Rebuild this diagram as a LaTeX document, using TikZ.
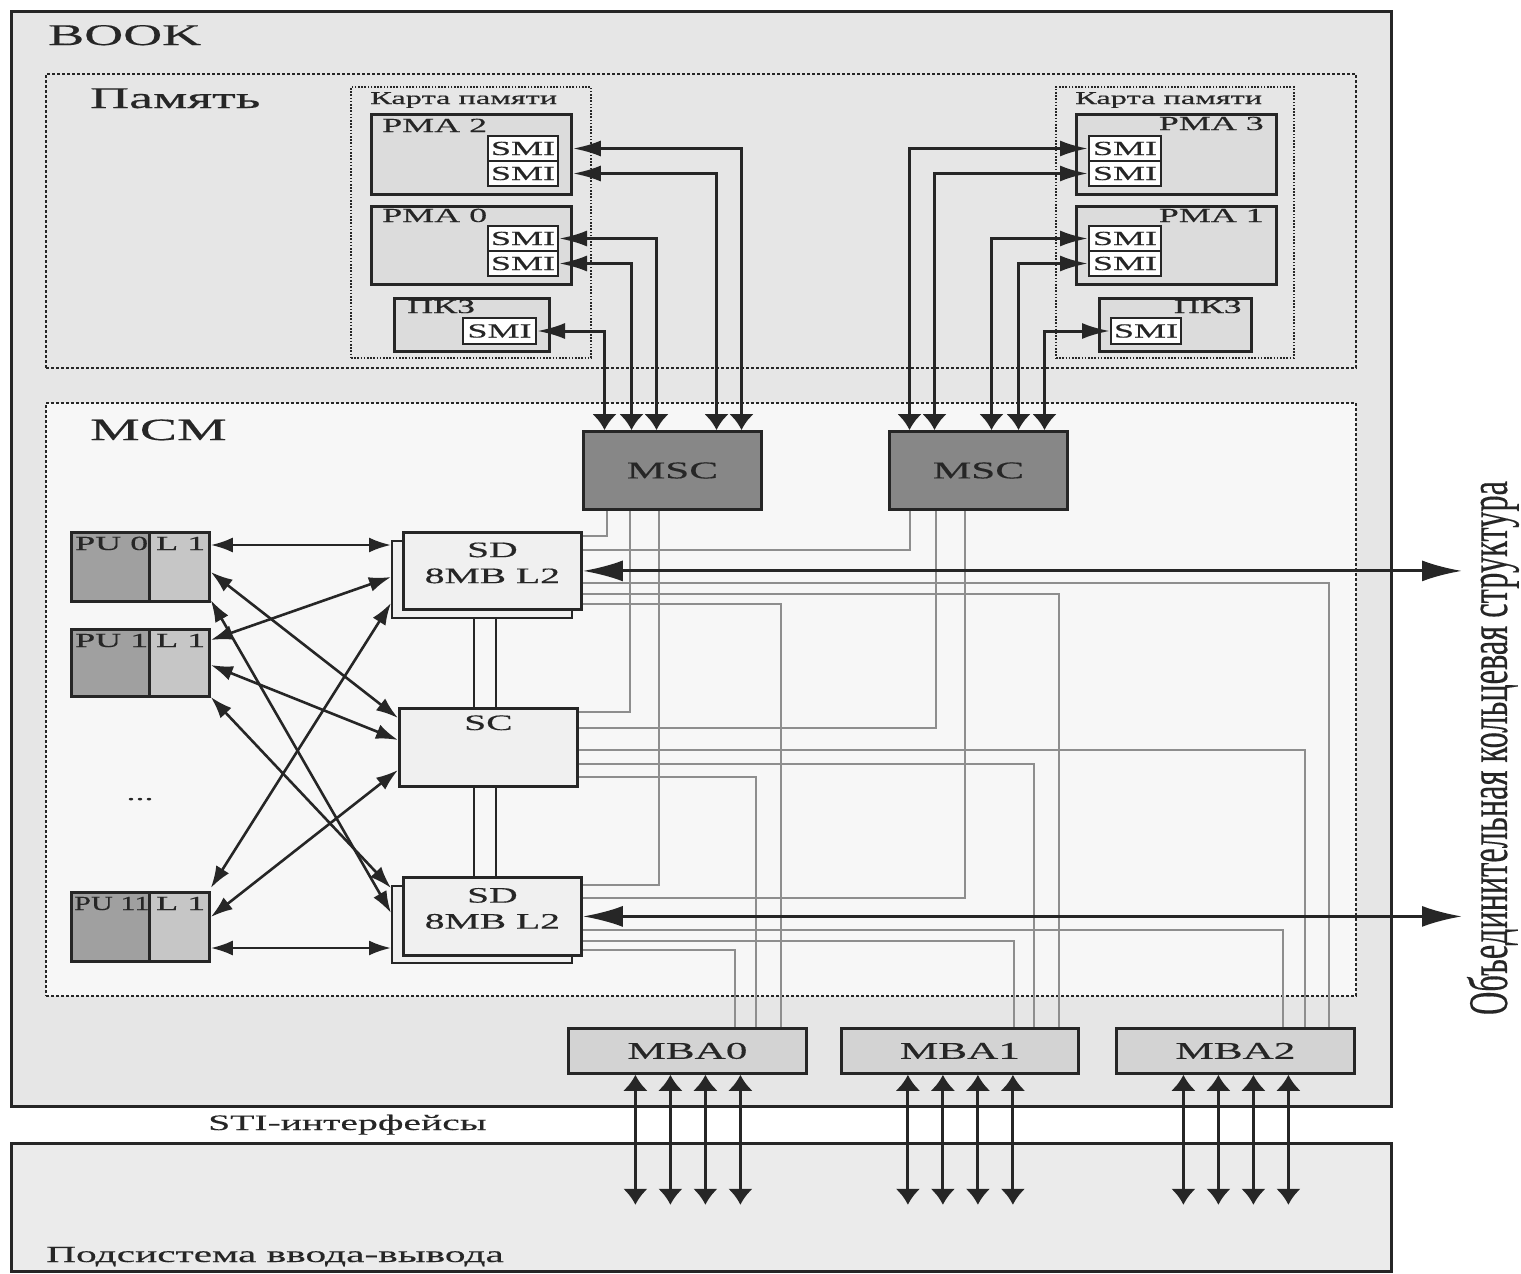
\documentclass[tikz,border=0pt]{standalone}
\usepackage{fontspec}
\setmainfont{Liberation Serif}[FakeStretch=1.8, FakeBold=0.4]
\newfontfamily\ringfont{Liberation Serif}[FakeBold=0.3]
\usetikzlibrary{arrows.meta,positioning}

\definecolor{ink}{HTML}{262626}
\definecolor{bookgray}{HTML}{E6E6E6}
\definecolor{mcmgray}{HTML}{F7F7F7}
\definecolor{pmagray}{HTML}{DCDCDC}
\definecolor{mscgray}{HTML}{878787}
\definecolor{pugray}{HTML}{A0A0A0}
\definecolor{lgray}{HTML}{C6C6C6}
\definecolor{sdgray}{HTML}{F0F0F0}
\definecolor{mbagray}{HTML}{D3D3D3}
\definecolor{iogray}{HTML}{EBEBEB}
\definecolor{wiregray}{HTML}{8E8E8E}

\tikzset{
  unit/.style={draw=ink, line width=2.8pt, inner sep=0pt, anchor=north west, text=ink},
  zone/.style={draw=ink, line width=2pt, dash pattern=on 3pt off 2pt, inner sep=0pt, anchor=north west},
  mapzone/.style={draw=ink, line width=2pt, dash pattern=on 1.6pt off 1.6pt, inner sep=0pt, anchor=north west},
  pmabox/.style={unit, fill=pmagray},
  smibox/.style={unit, line width=2pt, fill=white, font=\fontsize{20}{20}\selectfont},
  mscbox/.style={unit, line width=3pt, fill=mscgray, font=\fontsize{24}{24}\selectfont},
  pubox/.style={unit, fill=pugray},
  lbox/.style={unit, fill=lgray},
  sdbox/.style={unit, fill=sdgray},
  sdback/.style={unit, line width=2pt, fill=sdgray},
  mbabox/.style={unit, fill=mbagray, font=\fontsize{24}{24}\selectfont},
  txt/.style={text=ink, inner sep=0pt, anchor=base west},
  bigtxt/.style={txt, font=\fontsize{30}{30}\selectfont},
  maptxt/.style={txt, font=\fontsize{18}{18}\selectfont},
  pmatxt/.style={txt, font=\fontsize{20}{20}\selectfont},
  sdtxt/.style={text=ink, inner sep=0pt, align=center, font=\fontsize{22}{26}\selectfont},
  wire/.style={draw=wiregray, line width=1.9pt},
  bus/.style={draw=ink, line width=2.6pt},
  memlink/.style={draw=ink, line width=3pt, {Latex[length=28pt,width=16pt]}-{Latex[length=16pt,width=25pt]}},
  puarrow/.style={draw=ink, line width=2.6pt, {Latex[length=22pt,width=15pt]}-{Latex[length=22pt,width=15pt]}},
  ringarrow/.style={draw=ink, line width=3pt, {Latex[length=40pt,width=21pt]}-{Latex[length=40pt,width=21pt]}},
  stiarrow/.style={draw=ink, line width=3pt, {Latex[length=16pt,width=25pt]}-{Latex[length=16pt,width=25pt]}}
}

\begin{document}
\begin{tikzpicture}[x=1pt, y=-1pt]
\useasboundingbox (0,0) rectangle (1521,1274);

\node[unit, line width=3.2pt, fill=bookgray, minimum width=1380pt, minimum height=1095pt] (book) at (10,10) {};
\node[unit, line width=2.6pt, fill=iogray, minimum width=1380pt, minimum height=128pt] (io) at (10,1142) {};
\node[zone, minimum width=1310pt, minimum height=294pt] (mem) at (45,73) {};
\node[zone, fill=mcmgray, minimum width=1310pt, minimum height=593pt] (mcm) at (45,402) {};
\node[mapzone, minimum width=240pt, minimum height=271pt] (mapl) at (350,86) {};
\node[mapzone, minimum width=238pt, minimum height=271pt] (mapr) at (1055,86) {};

\node[bigtxt] (booklbl) at (48,45) {BOOK};
\node[bigtxt] (memlbl) at (90,108) {Память};
\node[bigtxt, font=\fontsize{31}{31}\selectfont] (mcmlbl) at (90,440) {MCM};
\node[maptxt] (mapllbl) at (370,104) {Карта памяти};
\node[maptxt] (maprlbl) at (1075,104) {Карта памяти};
\node[txt, font=\fontsize{22}{22}\selectfont] (stilbl) at (208,1130) {STI-интерфейсы};
\node[txt, font=\fontsize{23}{23}\selectfont] (iolbl) at (46,1262) {Подсистема ввода-вывода};

% memory cards
\node[pmabox, minimum width=200pt, minimum height=80pt] (pma2) at (370,113) {};
\node[pmabox, minimum width=200pt, minimum height=78pt] (pma0) at (370,205) {};
\node[pmabox, minimum width=155pt, minimum height=53pt] (pk0) at (393,297) {};
\node[pmabox, minimum width=200pt, minimum height=80pt] (pma3) at (1075,113) {};
\node[pmabox, minimum width=200pt, minimum height=78pt] (pma1) at (1075,205) {};
\node[pmabox, minimum width=152pt, minimum height=53pt] (pk1) at (1098,297) {};
\node[pmatxt] (pma2lbl) at (382,132) {PMA 2};
\node[pmatxt] (pma0lbl) at (382,222) {PMA 0};
\node[pmatxt] (pk0lbl) at (407,313) {ПКЗ};
\node[pmatxt, anchor=base east] (pma3lbl) at (1264,130) {PMA 3};
\node[pmatxt, anchor=base east] (pma1lbl) at (1264,222) {PMA 1};
\node[pmatxt, anchor=base east] (pk1lbl) at (1242,313) {ПКЗ};

\node[smibox, minimum width=70pt, minimum height=25pt] (smi2a) at (487,135) {SMI};
\node[smibox, minimum width=70pt, minimum height=25pt] (smi2b) at (487,160) {SMI};
\node[smibox, minimum width=70pt, minimum height=25pt] (smi0a) at (487,225) {SMI};
\node[smibox, minimum width=70pt, minimum height=25pt] (smi0b) at (487,250) {SMI};
\node[smibox, minimum width=73pt, minimum height=26pt] (smik0) at (462,317) {SMI};
\node[smibox, minimum width=72pt, minimum height=25pt] (smi3a) at (1088,135) {SMI};
\node[smibox, minimum width=72pt, minimum height=25pt] (smi3b) at (1088,160) {SMI};
\node[smibox, minimum width=72pt, minimum height=25pt] (smi1a) at (1088,225) {SMI};
\node[smibox, minimum width=72pt, minimum height=25pt] (smi1b) at (1088,250) {SMI};
\node[smibox, minimum width=70pt, minimum height=26pt] (smik1) at (1110,317) {SMI};

% MCM wires
\node[mscbox, minimum width=178pt, minimum height=78pt] (msc1) at (582,430) {MSC};
\node[mscbox, minimum width=178pt, minimum height=78pt] (msc2) at (888,430) {MSC};

\node[sdback, minimum width=180pt, minimum height=77pt] (sd1b) at (391,540) {};
\node[sdbox, minimum width=178pt, minimum height=77pt] (sd1) at (402,531) {};
\node[sdbox, minimum width=178pt, minimum height=78pt] (sc) at (398,707) {};
\node[sdback, minimum width=180pt, minimum height=77pt] (sd2b) at (391,885) {};
\node[sdbox, minimum width=178pt, minimum height=78pt] (sd2) at (402,876) {};
\node[sdtxt] (sd1t) at ([yshift=8pt]sd1.center) {SD\\8MB L2};
\node[sdtxt] (sd2t) at ([yshift=8pt]sd2.center) {SD\\8MB L2};
\node[sdtxt, anchor=base] (sct) at ([yshift=-23pt]sc.north) {SC};

\node[mbabox, minimum width=238pt, minimum height=45pt] (mba0) at (567,1027) {MBA0};
\node[mbabox, minimum width=237pt, minimum height=45pt] (mba1) at (840,1027) {MBA1};
\node[mbabox, minimum width=238pt, minimum height=45pt] (mba2) at (1115,1027) {MBA2};

\foreach \src/\x/\y/\dst in {msc1/607/536/sd1, msc1/630/712/sc, msc1/659/885/sd2,
                             msc2/910/550/sd1, msc2/936/728/sc, msc2/965/898/sd2}
  \draw[wire] (\src.south -| \x,0) |- (\dst.east |- 0,\y);
\foreach \src/\y/\x/\dst in {sd1/583/1329/mba2, sd1/594/1059/mba1, sd1/604/781/mba0,
                             sc/750/1305/mba2, sc/764/1034/mba1, sc/777/756/mba0,
                             sd2/930/1283/mba2, sd2/941/1014/mba1, sd2/950/735/mba0}
  \draw[wire] (\src.east |- 0,\y) -| (\dst.north -| \x,0);

\draw[bus] (sd1b.south -| 474,0) -- (sc.north -| 474,0);
\draw[bus] (sd1b.south -| 496,0) -- (sc.north -| 496,0);
\draw[bus] (sc.south -| 474,0) -- (sd2.north -| 474,0);
\draw[bus] (sc.south -| 496,0) -- (sd2.north -| 496,0);

% processors
\node[pubox, minimum width=78pt, minimum height=69pt] (pu0) at (70,531) {};
\node[pubox, minimum width=78pt, minimum height=67pt] (pu1) at (70,628) {};
\node[pubox, minimum width=78pt, minimum height=69pt] (pu11) at (70,891) {};
\node[pmatxt] (pu0lbl) at (75,550) {PU 0};
\node[pmatxt] (pu1lbl) at (75,647) {PU 1};
\node[pmatxt] (pu11lbl) at (74,910) {\scalebox{0.84}[1]{PU 11}};
\node[lbox, minimum width=60pt, minimum height=69pt] (l0) at (148,531) {};
\node[lbox, minimum width=60pt, minimum height=67pt] (l1) at (148,628) {};
\node[lbox, minimum width=60pt, minimum height=69pt] (l11) at (148,891) {};
\node[pmatxt] (l0lbl) at (156,550) {L 1};
\node[pmatxt] (l1lbl) at (156,647) {L 1};
\node[pmatxt] (l11lbl) at (156,910) {L 1};
\node[pmatxt, anchor=base] (dots) at (140,800) {...};

\foreach \pu/\py/\dst/\dy in {l0/545/sd1b/545, l0/572/sc/718, l0/600/sd2b/913,
                              l1/640/sd1b/577, l1/665/sc/740, l1/697/sd2b/888,
                              l11/888/sd1b/603, l11/917/sc/770, l11/948/sd2b/948}
  \draw[puarrow] (\pu.east |- 0,\py) -- (\dst.west |- 0,\dy);

% memory links
\foreach \s/\edge/\dx in {smi2a/pma2/69, smi2b/pma2/44, smi0a/smi0a/-16, smi0b/smi0b/-41, smik0/smik0/-68}
  \draw[memlink] (\s.east -| \edge.east) -| ([xshift=\dx pt]msc1.north);
\foreach \s/\dx in {smi3a/-69, smi3b/-44, smi1a/13, smi1b/40, smik1/66}
  \draw[memlink] (\s.west) -| ([xshift=\dx pt]msc2.north);

% ring and STI
\coordinate (ringa) at (sd1.east -| 1462,0);
\coordinate (ringb) at (sd2.east -| 1462,0);
\draw[ringarrow] (sd1.east) -- (ringa);
\draw[ringarrow] (sd2.east) -- (ringb);
\node[text=ink, inner sep=0pt, rotate=90] (ring) at (1493,748)
  {\resizebox{534pt}{40pt}{\ringfont Объединительная кольцевая структура}};

\foreach \m in {mba0,mba1,mba2}
  \foreach \dx in {-52,-17,18,53}
    \draw[stiarrow] ([xshift=\dx pt]\m.south) -- ++(0,130);
\end{tikzpicture}
\end{document}
